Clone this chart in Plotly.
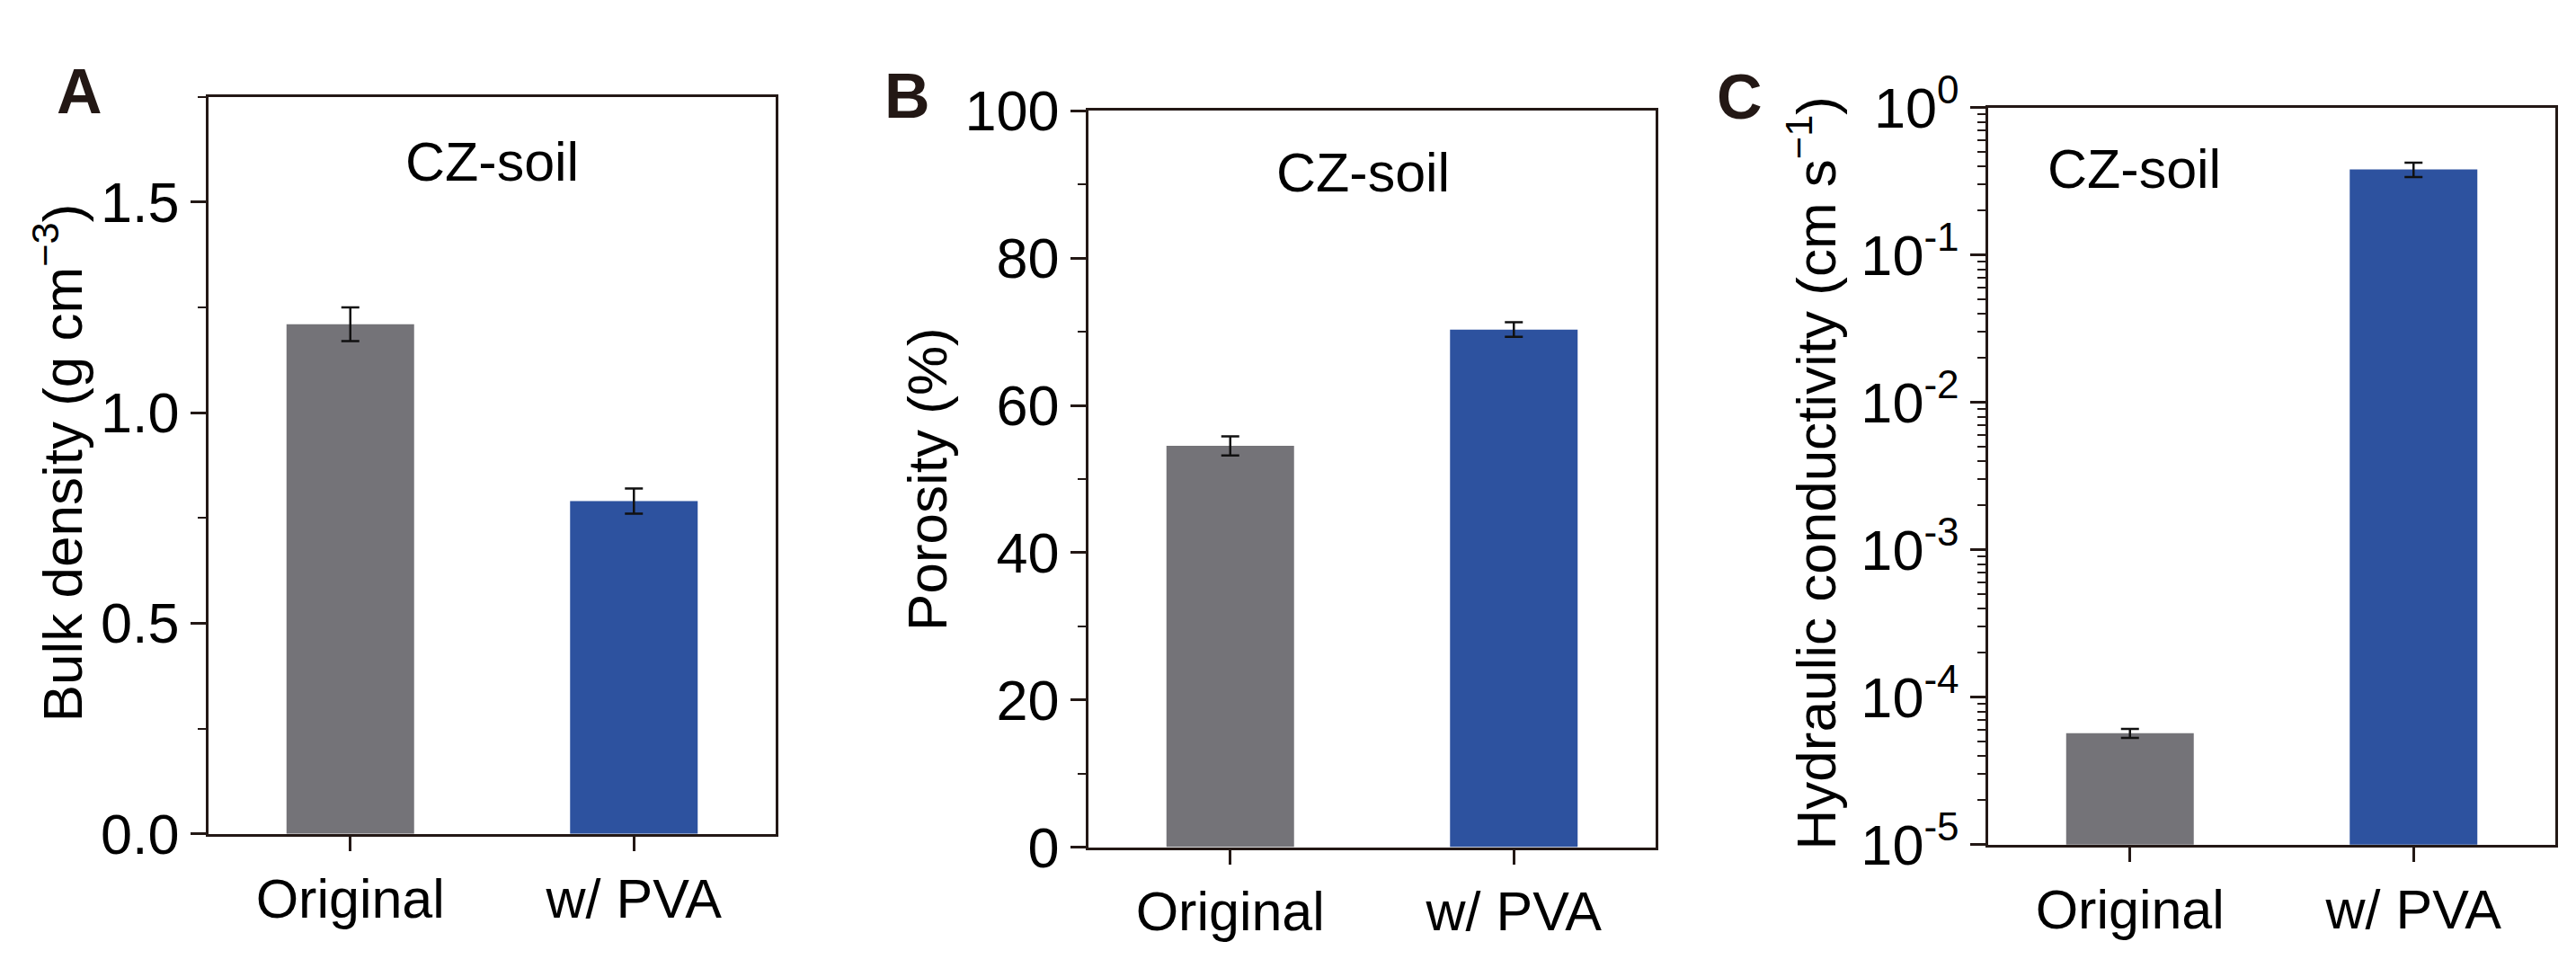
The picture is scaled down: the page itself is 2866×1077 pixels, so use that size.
import plotly.graph_objects as go

W, H = 2866, 1077

categories = ["Original", "w/ PVA"]
bar_colors = ["#747378", "#2D529F"]

bulk_density = [1.21, 0.79]
bulk_density_err = [0.04, 0.03]

porosity = [54.5, 70.3]
porosity_err = [1.3, 1.0]

hydraulic_k = [5.7e-5, 0.38]
hydraulic_k_err = [0.4e-5, 0.042]

log_tickvals = [1e-5, 1e-4, 1e-3, 1e-2, 1e-1, 1e0]
log_ticktext = ["10<sup>-5</sup>", "10<sup>-4</sup>", "10<sup>-3</sup>",
                "10<sup>-2</sup>", "10<sup>-1</sup>", "10<sup>0</sup>"]

FONT = "Liberation Sans, Arial, sans-serif"
AXC = "#231815"
FS = 61
FS_YT = 63

# panel frames in pixels: left, right, top, bottom
frames = {
    "A": (224, 855, 60, 945),
    "B": (1203, 1834, 77, 961),
    "C": (2204, 2835, 73, 958),
}

def xd(l, r):
    return [l / W, r / W]

def yd(t, b):
    return [1 - b / H, 1 - t / H]

fig = go.Figure()

panels = [
    ("A", "x", "y", bulk_density, bulk_density_err),
    ("B", "x2", "y2", porosity, porosity_err),
    ("C", "x3", "y3", hydraulic_k, hydraulic_k_err),
]
for key, xa, ya, vals, errs in panels:
    fig.add_trace(go.Bar(
        x=categories, y=vals, xaxis=xa, yaxis=ya,
        width=0.45,
        marker=dict(color=bar_colors, line=dict(width=0)),
        error_y=dict(type="data", array=errs, visible=True,
                     color="#111111", thickness=2.5, width=10),
        showlegend=False,
    ))

common_x = dict(
    type="category", range=[-0.5, 1.5],
    showline=True, linecolor=AXC, linewidth=2.5, mirror=True,
    ticks="outside", ticklen=17, tickwidth=2.5, tickcolor=AXC,
    tickfont=dict(family=FONT, size=FS, color="black"),
    showgrid=False, zeroline=False, fixedrange=True,
)
common_y = dict(
    showline=True, linecolor=AXC, linewidth=2.5, mirror=True,
    ticks="outside", ticklen=17, tickwidth=2.5, tickcolor=AXC,
    tickfont=dict(family=FONT, size=FS_YT, color="black"),
    showgrid=False, zeroline=False, fixedrange=True,
)

fa, fb, fc = frames["A"], frames["B"], frames["C"]
layout = dict(
    width=W, height=H, autosize=False,
    margin=dict(l=0, r=0, t=0, b=0),
    paper_bgcolor="white", plot_bgcolor="white",
    font=dict(family=FONT, size=FS, color="black"),
    bargap=0.1,
    xaxis=dict(common_x, domain=xd(fa[0], fa[1]), anchor="y"),
    yaxis=dict(common_y, domain=yd(fa[2], fa[3]), anchor="x",
               range=[0, 1.75], tickvals=[0, 0.5, 1.0, 1.5],
               ticktext=["0.0", "0.5", "1.0", "1.5"],
               minor=dict(dtick=0.25, tick0=0, ticks="outside", ticklen=9,
                          tickwidth=2, tickcolor=AXC)),
    xaxis2=dict(common_x, domain=xd(fb[0], fb[1]), anchor="y2"),
    yaxis2=dict(common_y, domain=yd(fb[2], fb[3]), anchor="x2",
                range=[0, 100], dtick=20, tick0=0,
                minor=dict(dtick=10, tick0=0, ticks="outside", ticklen=9,
                           tickwidth=2, tickcolor=AXC)),
    xaxis3=dict(common_x, domain=xd(fc[0], fc[1]), anchor="y3"),
    yaxis3=dict(common_y, domain=yd(fc[2], fc[3]), anchor="x3",
                type="log", range=[-5, 0],
                tickvals=log_tickvals, ticktext=log_ticktext,
                minor=dict(dtick="D1", ticks="outside", ticklen=9,
                           tickwidth=2, tickcolor=AXC)),
)
fig.update_layout(**layout)

ann = []
# panel letters
for letter, x, y in [("A", 53, 54), ("B", 974, 59), ("C", 1900, 60)]:
    ann.append(dict(text="<b>%s</b>" % letter, x=x / W, y=1 - y / H,
                    xref="paper", yref="paper", xanchor="left", yanchor="middle",
                    showarrow=False, font=dict(family=FONT, size=70, color=AXC)))
# CZ-soil labels
for x, y in [(539, 138), (1508, 151), (2366, 147)]:
    ann.append(dict(text="CZ-soil", x=x / W, y=1 - y / H,
                    xref="paper", yref="paper", xanchor="center", yanchor="middle",
                    showarrow=False, font=dict(family=FONT, size=FS, color="black")))
# y axis titles
for text, x, y in [("Bulk density (g cm<sup>\u22123</sup>)", 57, 500),
                   ("Porosity (%)", 1024, 519),
                   ("Hydraulic conductivity (cm s<sup>\u22121</sup>)", 2008, 512)]:
    ann.append(dict(text=text, x=x / W, y=1 - y / H, textangle=-90,
                    xref="paper", yref="paper", xanchor="center", yanchor="middle",
                    showarrow=False, font=dict(family=FONT, size=62, color="black")))
fig.update_layout(annotations=ann)

fig.write_html("out.html")
